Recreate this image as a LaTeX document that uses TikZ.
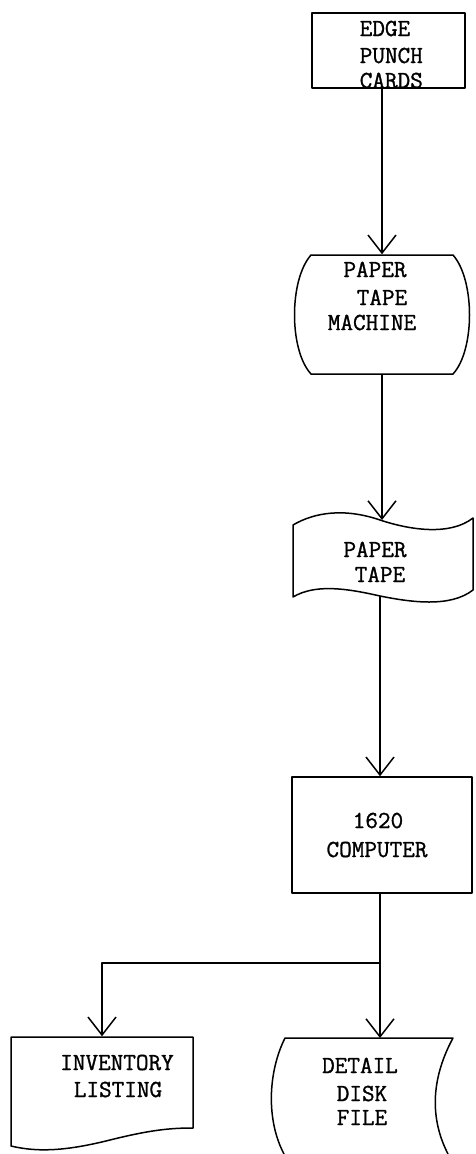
\documentclass[tikz,border=0pt]{standalone}
\usepackage{fontspec}
\newfontfamily\twfont[FakeBold=1.2]{Latin Modern Mono}
\usetikzlibrary{arrows.meta,calc}
\begin{document}
\begin{tikzpicture}[x=1pt,y=-1pt, line width=1.5pt, line join=round,
  lbl/.style={font=\twfont\fontsize{24.5}{24.5}\selectfont, inner sep=0pt,
    text height=15pt, text depth=0pt, anchor=base},
  lblw/.style={lbl, anchor=base west},
  flow/.style={-{Straight Barb[length=18pt,width=28pt,line width=1.5pt]}},
  box/.style={draw, inner sep=0pt},
  frame/.style={inner sep=0pt},
]
\useasboundingbox (0,0) rectangle (475,1154);

% EDGE PUNCH CARDS
\node[box, minimum width=153pt, minimum height=75pt] (edge) at (388.5,50.5) {};
\node[lblw] (e1) at (359,36) {EDGE};
\node[lblw] (e2) at (359,63) {PUNCH};
\node[lblw] (e3) at (359,88) {CARDS};

% PAPER TAPE MACHINE
\node[frame, minimum width=142pt, minimum height=119pt] (ptm) at (382,314.5) {};
\draw (311,255) -- (453,255) .. controls (475,280) and (475,350) .. (453,374)
      -- (311,374) .. controls (289,350) and (289,280) .. cycle;
\node[lbl] (m1) at (375,277) {PAPER};
\node[lbl] (m2) at (382,305) {TAPE};
\node[lbl] (m3) at (372,330) {MACHINE};

% PAPER TAPE
\coordinate (tapein) at (382,520);
\coordinate (tapeout) at (380,596);
\draw (293,525) .. controls (315,512) and (345,508) .. (380,520)
      .. controls (410,530) and (450,536) .. (473,518)
      -- (473,590) .. controls (450,608) and (410,602) .. (380,596)
      .. controls (345,588) and (315,584) .. (293,597) -- cycle;
\node[lbl] (p1) at (375,557) {PAPER};
\node[lbl] (p2) at (380,582) {TAPE};

% 1620 COMPUTER
\node[box, minimum width=180pt, minimum height=116pt] (comp) at (382,835) {};
\node[lbl] (c1) at (378,828) {1620};
\node[lbl] (c2) at (377,857) {COMPUTER};

% INVENTORY LISTING
\node[frame, minimum width=182pt, minimum height=110pt] (inv) at (102,1092) {};
\draw (11,1037) -- (193,1037) -- (193,1128)
      .. controls (170,1128) and (150,1130) .. (110,1140)
      .. controls (70,1150) and (40,1153) .. (11,1146) -- cycle;
\node[lbl] (i1) at (117,1070) {INVENTORY};
\node[lbl] (i2) at (118,1097) {LISTING};

% DETAIL DISK FILE
\coordinate (diskin) at (380,1038);
\draw (284,1154) .. controls (266,1120) and (268,1072) .. (285,1038)
      -- (453,1038) .. controls (433,1075) and (428,1115) .. (448,1154);
\node[lbl] (d1) at (360,1073) {DETAIL};
\node[lbl] (d2) at (362,1101) {DISK};
\node[lbl] (d3) at (362,1125) {FILE};

% connectors
\coordinate (split) at (380,963);
\draw[flow] (edge.south -| ptm.north) -- (ptm.north);
\draw[flow] (ptm.south) -- (tapein);
\draw[flow] (tapeout) -- (tapeout |- comp.north);
\draw (comp.south -| split) -- (split);
\draw[flow] (split) -| (inv.north);
\draw[flow] (split) -- (diskin);
\end{tikzpicture}
\end{document}
